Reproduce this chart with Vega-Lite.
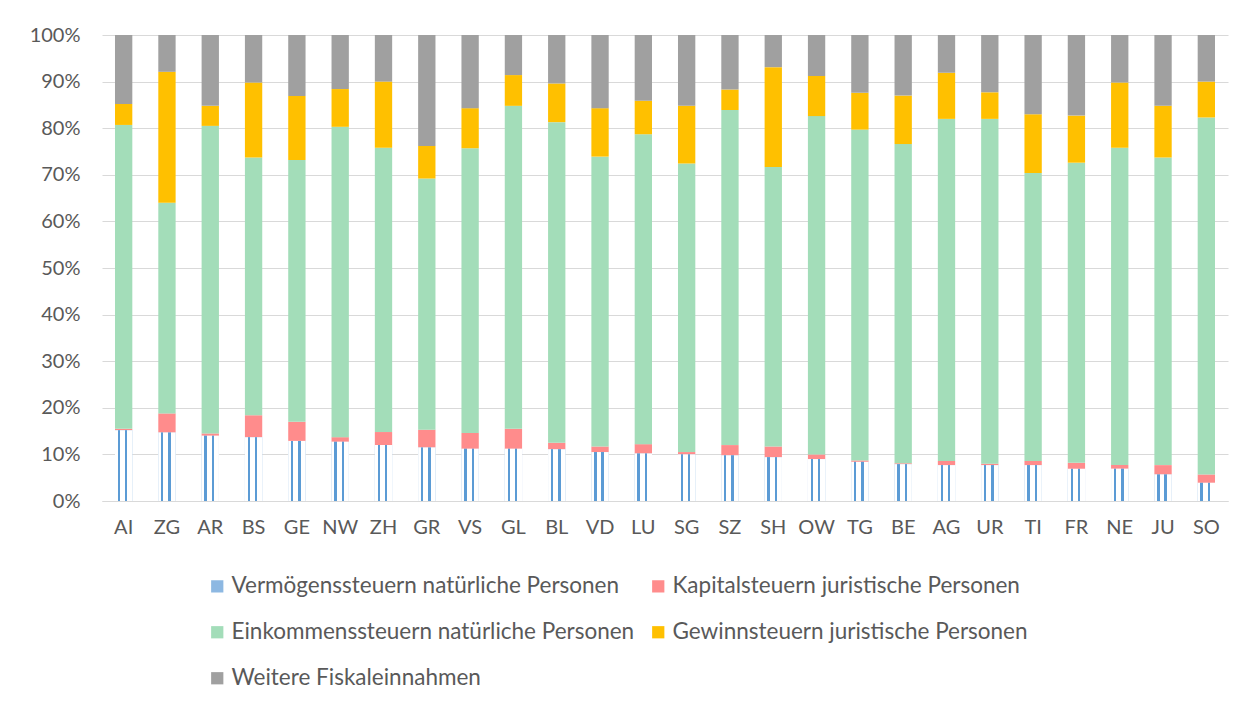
{
  "$schema": "https://vega.github.io/schema/vega-lite/v6.json",
  "width": 1126,
  "height": 466,
  "autosize": {"type": "none"},
  "padding": {"left": 102, "top": 35, "right": 27, "bottom": 203},
  "background": "white",
  "config": {
    "view": {"stroke": null},
    "font": "Lato",
    "axis": {"labelFont": "Lato", "labelFontSize": 20, "labelColor": "#595959", "title": null},
    "legend": {"labelFont": "Lato", "labelFontSize": 22.5, "labelColor": "#595959"}
  },
  "data": {
    "values": [
      {"Kanton": "AI", "Vermögenssteuern natürliche Personen": 15.2, "Kapitalsteuern juristische Personen": 0.3, "Einkommenssteuern natürliche Personen": 65.2, "Gewinnsteuern juristische Personen": 4.5, "Weitere Fiskaleinnahmen": 14.8},
      {"Kanton": "ZG", "Vermögenssteuern natürliche Personen": 14.7, "Kapitalsteuern juristische Personen": 4.1, "Einkommenssteuern natürliche Personen": 45.2, "Gewinnsteuern juristische Personen": 28.1, "Weitere Fiskaleinnahmen": 7.9},
      {"Kanton": "AR", "Vermögenssteuern natürliche Personen": 14.0, "Kapitalsteuern juristische Personen": 0.5, "Einkommenssteuern natürliche Personen": 66.0, "Gewinnsteuern juristische Personen": 4.3, "Weitere Fiskaleinnahmen": 15.2},
      {"Kanton": "BS", "Vermögenssteuern natürliche Personen": 13.7, "Kapitalsteuern juristische Personen": 4.7, "Einkommenssteuern natürliche Personen": 55.3, "Gewinnsteuern juristische Personen": 16.1, "Weitere Fiskaleinnahmen": 10.2},
      {"Kanton": "GE", "Vermögenssteuern natürliche Personen": 12.9, "Kapitalsteuern juristische Personen": 4.1, "Einkommenssteuern natürliche Personen": 56.2, "Gewinnsteuern juristische Personen": 13.7, "Weitere Fiskaleinnahmen": 13.1},
      {"Kanton": "NW", "Vermögenssteuern natürliche Personen": 12.7, "Kapitalsteuern juristische Personen": 1.0, "Einkommenssteuern natürliche Personen": 66.6, "Gewinnsteuern juristische Personen": 8.1, "Weitere Fiskaleinnahmen": 11.6},
      {"Kanton": "ZH", "Vermögenssteuern natürliche Personen": 12.0, "Kapitalsteuern juristische Personen": 2.8, "Einkommenssteuern natürliche Personen": 61.0, "Gewinnsteuern juristische Personen": 14.2, "Weitere Fiskaleinnahmen": 10.0},
      {"Kanton": "GR", "Vermögenssteuern natürliche Personen": 11.5, "Kapitalsteuern juristische Personen": 3.8, "Einkommenssteuern natürliche Personen": 53.9, "Gewinnsteuern juristische Personen": 7.0, "Weitere Fiskaleinnahmen": 23.8},
      {"Kanton": "VS", "Vermögenssteuern natürliche Personen": 11.2, "Kapitalsteuern juristische Personen": 3.4, "Einkommenssteuern natürliche Personen": 61.1, "Gewinnsteuern juristische Personen": 8.6, "Weitere Fiskaleinnahmen": 15.7},
      {"Kanton": "GL", "Vermögenssteuern natürliche Personen": 11.2, "Kapitalsteuern juristische Personen": 4.3, "Einkommenssteuern natürliche Personen": 69.3, "Gewinnsteuern juristische Personen": 6.6, "Weitere Fiskaleinnahmen": 8.6},
      {"Kanton": "BL", "Vermögenssteuern natürliche Personen": 11.1, "Kapitalsteuern juristische Personen": 1.4, "Einkommenssteuern natürliche Personen": 68.8, "Gewinnsteuern juristische Personen": 8.3, "Weitere Fiskaleinnahmen": 10.4},
      {"Kanton": "VD", "Vermögenssteuern natürliche Personen": 10.5, "Kapitalsteuern juristische Personen": 1.2, "Einkommenssteuern natürliche Personen": 62.2, "Gewinnsteuern juristische Personen": 10.4, "Weitere Fiskaleinnahmen": 15.7},
      {"Kanton": "LU", "Vermögenssteuern natürliche Personen": 10.2, "Kapitalsteuern juristische Personen": 2.0, "Einkommenssteuern natürliche Personen": 66.5, "Gewinnsteuern juristische Personen": 7.2, "Weitere Fiskaleinnahmen": 14.1},
      {"Kanton": "SG", "Vermögenssteuern natürliche Personen": 10.0, "Kapitalsteuern juristische Personen": 0.5, "Einkommenssteuern natürliche Personen": 61.9, "Gewinnsteuern juristische Personen": 12.4, "Weitere Fiskaleinnahmen": 15.2},
      {"Kanton": "SZ", "Vermögenssteuern natürliche Personen": 9.8, "Kapitalsteuern juristische Personen": 2.2, "Einkommenssteuern natürliche Personen": 71.9, "Gewinnsteuern juristische Personen": 4.4, "Weitere Fiskaleinnahmen": 11.7},
      {"Kanton": "SH", "Vermögenssteuern natürliche Personen": 9.4, "Kapitalsteuern juristische Personen": 2.3, "Einkommenssteuern natürliche Personen": 60.0, "Gewinnsteuern juristische Personen": 21.4, "Weitere Fiskaleinnahmen": 6.9},
      {"Kanton": "OW", "Vermögenssteuern natürliche Personen": 9.0, "Kapitalsteuern juristische Personen": 1.0, "Einkommenssteuern natürliche Personen": 72.6, "Gewinnsteuern juristische Personen": 8.6, "Weitere Fiskaleinnahmen": 8.8},
      {"Kanton": "TG", "Vermögenssteuern natürliche Personen": 8.4, "Kapitalsteuern juristische Personen": 0.3, "Einkommenssteuern natürliche Personen": 71.0, "Gewinnsteuern juristische Personen": 7.9, "Weitere Fiskaleinnahmen": 12.4},
      {"Kanton": "BE", "Vermögenssteuern natürliche Personen": 7.9, "Kapitalsteuern juristische Personen": 0.2, "Einkommenssteuern natürliche Personen": 68.5, "Gewinnsteuern juristische Personen": 10.4, "Weitere Fiskaleinnahmen": 13.0},
      {"Kanton": "AG", "Vermögenssteuern natürliche Personen": 7.7, "Kapitalsteuern juristische Personen": 0.9, "Einkommenssteuern natürliche Personen": 73.4, "Gewinnsteuern juristische Personen": 9.9, "Weitere Fiskaleinnahmen": 8.1},
      {"Kanton": "UR", "Vermögenssteuern natürliche Personen": 7.7, "Kapitalsteuern juristische Personen": 0.3, "Einkommenssteuern natürliche Personen": 74.0, "Gewinnsteuern juristische Personen": 5.7, "Weitere Fiskaleinnahmen": 12.3},
      {"Kanton": "TI", "Vermögenssteuern natürliche Personen": 7.7, "Kapitalsteuern juristische Personen": 0.9, "Einkommenssteuern natürliche Personen": 61.8, "Gewinnsteuern juristische Personen": 12.6, "Weitere Fiskaleinnahmen": 17.0},
      {"Kanton": "FR", "Vermögenssteuern natürliche Personen": 6.9, "Kapitalsteuern juristische Personen": 1.3, "Einkommenssteuern natürliche Personen": 64.4, "Gewinnsteuern juristische Personen": 10.1, "Weitere Fiskaleinnahmen": 17.3},
      {"Kanton": "NE", "Vermögenssteuern natürliche Personen": 6.9, "Kapitalsteuern juristische Personen": 0.8, "Einkommenssteuern natürliche Personen": 68.1, "Gewinnsteuern juristische Personen": 14.0, "Weitere Fiskaleinnahmen": 10.2},
      {"Kanton": "JU", "Vermögenssteuern natürliche Personen": 5.7, "Kapitalsteuern juristische Personen": 2.0, "Einkommenssteuern natürliche Personen": 66.0, "Gewinnsteuern juristische Personen": 11.1, "Weitere Fiskaleinnahmen": 15.2},
      {"Kanton": "SO", "Vermögenssteuern natürliche Personen": 3.9, "Kapitalsteuern juristische Personen": 1.8, "Einkommenssteuern natürliche Personen": 76.6, "Gewinnsteuern juristische Personen": 7.7, "Weitere Fiskaleinnahmen": 10.0}
    ]
  },
  "encoding": {
    "x": {
      "field": "Kanton",
      "type": "nominal",
      "sort": ["AI","ZG","AR","BS","GE","NW","ZH","GR","VS","GL","BL","VD","LU","SG","SZ","SH","OW","TG","BE","AG","UR","TI","FR","NE","JU","SO"],
      "scale": {"paddingInner": 0.6, "paddingOuter": 0.3},
      "axis": {"labelAngle": 0, "domain": true, "domainColor": "#D9D9D9", "domainWidth": 1, "ticks": false, "labelPadding": 16, "grid": false}
    }
  },
  "layer": [
    {
      "transform": [
        {"fold": ["Vermögenssteuern natürliche Personen", "Kapitalsteuern juristische Personen", "Einkommenssteuern natürliche Personen", "Gewinnsteuern juristische Personen", "Weitere Fiskaleinnahmen"], "as": ["Art", "Anteil"]},
        {"window": [{"op": "row_number", "as": "Rang"}], "groupby": ["Kanton"]}
      ],
      "mark": {"type": "bar"},
      "encoding": {
        "y": {
          "field": "Anteil",
          "type": "quantitative",
          "stack": "zero",
          "scale": {"domain": [0, 100], "nice": false},
          "axis": {"values": [0,10,20,30,40,50,60,70,80,90,100], "labelExpr": "datum.value + '%'", "domain": false, "ticks": false, "grid": true, "gridColor": "#D9D9D9", "gridWidth": 1, "labelPadding": 22}
        },
        "order": {"field": "Rang", "type": "quantitative", "sort": "ascending"},
        "color": {
          "field": "Art",
          "type": "nominal",
          "sort": ["Vermögenssteuern natürliche Personen", "Kapitalsteuern juristische Personen", "Einkommenssteuern natürliche Personen", "Gewinnsteuern juristische Personen", "Weitere Fiskaleinnahmen"],
          "scale": {
            "domain": ["Vermögenssteuern natürliche Personen", "Kapitalsteuern juristische Personen", "Einkommenssteuern natürliche Personen", "Gewinnsteuern juristische Personen", "Weitere Fiskaleinnahmen"],
            "range": ["#8DB8E2", "#FF8C8C", "#A3DDB9", "#FFC000", "#A0A0A0"]
          },
          "legend": {
            "title": null,
            "orient": "none",
            "legendX": 104,
            "legendY": 540,
            "columns": 2,
            "direction": "horizontal",
            "symbolType": "square",
            "symbolSize": 150,
            "symbolStrokeWidth": 0,
            "labelOffset": 3,
            "columnPadding": 12,
            "rowPadding": 23,
            "labelLimit": 600,
            "padding": 0
          }
        }
      }
    },
    {
      "mark": {
        "type": "bar",
        "color": {
          "gradient": "linear",
          "x1": 0, "y1": 0, "x2": 1, "y2": 0,
          "stops": [
            {"offset": 0, "color": "#FFFFFF"},
            {"offset": 0.16, "color": "#FFFFFF"},
            {"offset": 0.16, "color": "#5B9BD5"},
            {"offset": 0.3, "color": "#5B9BD5"},
            {"offset": 0.3, "color": "#FFFFFF"},
            {"offset": 0.58, "color": "#FFFFFF"},
            {"offset": 0.58, "color": "#5B9BD5"},
            {"offset": 0.72, "color": "#5B9BD5"},
            {"offset": 0.72, "color": "#FFFFFF"},
            {"offset": 1, "color": "#FFFFFF"}
          ]
        }
      },
      "encoding": {
        "y": {"field": "Vermögenssteuern natürliche Personen", "type": "quantitative"}
      }
    }
  ]
}
